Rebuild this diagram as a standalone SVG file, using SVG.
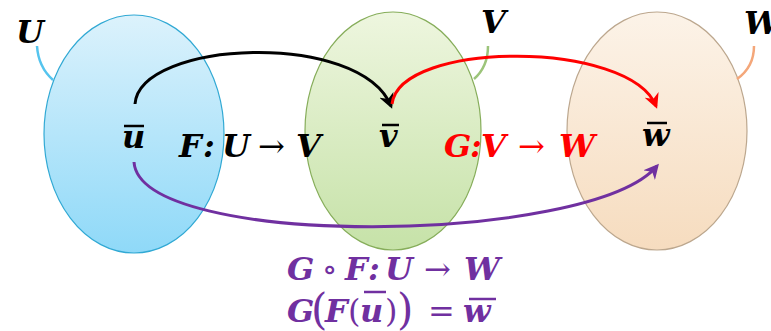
<svg xmlns="http://www.w3.org/2000/svg" width="771" height="331" viewBox="0 0 771 331">
<defs>
<linearGradient id="gU" x1="0" y1="0" x2="0" y2="1"><stop offset="0" stop-color="#dcf2fc"/><stop offset="1" stop-color="#8fd9f8"/></linearGradient>
<linearGradient id="gV" x1="0" y1="0" x2="0" y2="1"><stop offset="0" stop-color="#eef6df"/><stop offset="1" stop-color="#c6e2a8"/></linearGradient>
<linearGradient id="gW" x1="0" y1="0" x2="0" y2="1"><stop offset="0" stop-color="#fcf3e8"/><stop offset="1" stop-color="#f6dcbf"/></linearGradient>
<marker id="aK" viewBox="0 0 10 10" refX="8" refY="5" markerWidth="5" markerHeight="5" orient="auto"><path d="M0,0 L10,5 L0,10 L3,5 z" fill="#000"/></marker>
<marker id="aR" viewBox="0 0 10 10" refX="8" refY="5" markerWidth="5" markerHeight="5" orient="auto"><path d="M0,0 L10,5 L0,10 L3,5 z" fill="#ff0000"/></marker>
<marker id="aP" viewBox="0 0 10 10" refX="8" refY="5" markerWidth="5" markerHeight="5" orient="auto"><path d="M0,0 L10,5 L0,10 L3,5 z" fill="#7030a0"/></marker>
</defs>
<style>
text{font-family:"DejaVu Serif","Liberation Serif",serif;font-weight:bold;font-style:italic;font-size:32px;}
.n{font-style:normal;font-weight:normal;}
.k{fill:#000}.r{fill:#ff0000}.p{fill:#7030a0}
.c{fill:none;stroke-width:3}
</style>
<rect width="771" height="331" fill="#fff"/>
<g id="setU">
<ellipse cx="134" cy="134" rx="90" ry="119" fill="url(#gU)" stroke="#31a9d4" stroke-width="1.2"/>
<path d="M37,46 C38,62 44,72 53,80" fill="none" stroke="#55c4ee" stroke-width="2.5"/>
<text x="16" y="43" class="k">U</text>
<text x="122" y="148" class="k">u</text>
<line x1="124" y1="126" x2="144" y2="126" stroke="#000" stroke-width="2.5"/>
</g>
<g id="setV">
<ellipse cx="393" cy="131" rx="88" ry="119" fill="url(#gV)" stroke="#86ad5a" stroke-width="1.2"/>
<path d="M488,46 C488,62 482,72 474,79" fill="none" stroke="#9cc47a" stroke-width="2.5"/>
<text x="481" y="33" class="k">V</text>
<text x="379" y="147" class="k">v</text>
<line x1="382" y1="125" x2="399" y2="125" stroke="#000" stroke-width="2.5"/>
</g>
<g id="setW">
<ellipse cx="657" cy="131" rx="90" ry="119" fill="url(#gW)" stroke="#bca78e" stroke-width="1.2"/>
<path d="M754,46 C754,62 747,72 737,79" fill="none" stroke="#f4a77a" stroke-width="2.5"/>
<text x="744" y="34" class="k">W</text>
<text x="642" y="146" class="k">w</text>
<line x1="647" y1="123" x2="667" y2="123" stroke="#000" stroke-width="2.5"/>
</g>
<g id="connectors">
<path class="c" d="M135,104 C140,40 360,30 391,106" stroke="#000" marker-end="url(#aK)"/>
<path class="c" d="M392,104 C400,40 630,40 656,106" stroke="#ff0000" marker-end="url(#aR)"/>
<path class="c" d="M134,162 C140,250 590,245 657,166" stroke="#7030a0" marker-end="url(#aP)"/>
</g>
<g id="labels">
<text y="157" class="k"><tspan x="179">F</tspan><tspan x="203">:</tspan><tspan x="222">U</tspan><tspan x="258" class="n">→</tspan><tspan x="296">V</tspan></text>
<text y="157" class="r"><tspan x="444">G</tspan><tspan x="470">:</tspan><tspan x="481">V</tspan><tspan x="518" class="n">→</tspan><tspan x="559">W</tspan></text>
<text y="280" class="p"><tspan x="287">G</tspan><tspan x="322" class="n">∘</tspan><tspan x="345">F</tspan><tspan x="368">:</tspan><tspan x="385">U</tspan><tspan x="424" class="n">→</tspan><tspan x="464">W</tspan></text>
<text y="322" class="p"><tspan x="287">G</tspan><tspan x="311" class="n" font-size="42" dy="2">(</tspan><tspan x="325" dy="-2">F</tspan><tspan x="348" class="n">(</tspan><tspan x="360">u</tspan><tspan x="385" class="n">)</tspan><tspan x="397" class="n" font-size="42" dy="2">)</tspan><tspan x="428" class="n" dy="-2">=</tspan><tspan x="463">w</tspan></text>
<line x1="364" y1="292" x2="386" y2="292" stroke="#7030a0" stroke-width="2.5"/>
<line x1="469" y1="299" x2="496" y2="299" stroke="#7030a0" stroke-width="2.5"/>
</g>
</svg>
